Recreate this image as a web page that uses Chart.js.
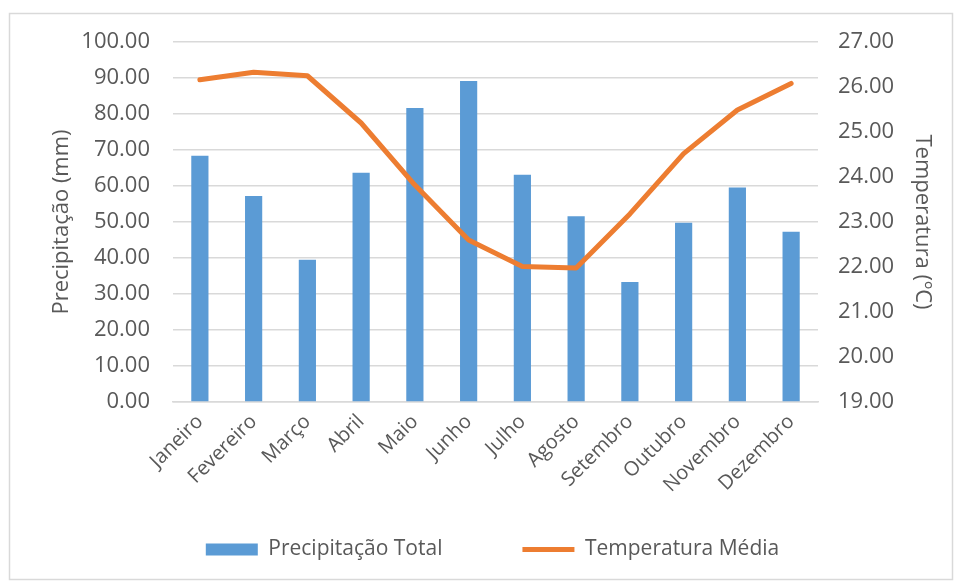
<!DOCTYPE html>
<html>
<head>
<meta charset="utf-8">
<script src="https://cdn.jsdelivr.net/npm/chart.js"></script>
<style>
  body { margin: 0; background: #ffffff; }
  #wrap { position: absolute; left: 0; top: 0; width: 955px; height: 581px; }
</style>
</head>
<body>
<div id="wrap"><canvas id="myChart" width="955" height="581"></canvas></div>
<script>
const months = ['Janeiro', 'Fevereiro', 'Março', 'Abril', 'Maio', 'Junho',
  'Julho', 'Agosto', 'Setembro', 'Outubro', 'Novembro', 'Dezembro'];
const precipitation = [68.4, 57.2, 39.5, 63.7, 81.7, 89.2, 63.1, 51.6, 33.3, 49.8, 59.6, 47.3];
const temperature = [26.16, 26.33, 26.25, 25.2, 23.82, 22.6, 22.01, 21.98, 23.18, 24.52, 25.49, 26.08];
const precipTicks = [0, 10, 20, 30, 40, 50, 60, 70, 80, 90, 100];
const tempTicks = [19, 20, 21, 22, 23, 24, 25, 26, 27];

const fontName = '"Open Sans", "Noto Sans", sans-serif';
const gray = '#595959';
const gridGray = '#d9d9d9';

// border around the whole chart, like the office chart frame
const frame = {
  id: 'frame',
  beforeDraw(chart) {
    const ctx = chart.ctx;
    ctx.save();
    ctx.strokeStyle = gridGray;
    ctx.lineWidth = 1.5;
    ctx.strokeRect(9.5, 13.5, 943, 566);
    ctx.restore();
    // rotated month labels run below the axis box, don't clip them
    chart.scales.x._computeLabelArea = () => undefined;
  }
};

// legend needs wide spacing between items but a short box
const legendHeight = {
  id: 'legendHeight',
  afterInit(chart) {
    const leg = chart.legend;
    const fit0 = leg.fit;
    leg.fit = function () {
      fit0.call(this);
      this.height = 122;
    };
  }
};

const ctx = document.getElementById('myChart').getContext('2d');
new Chart(ctx, {
  data: {
    labels: months,
    datasets: [{
      type: 'bar',
      label: 'Precipitação Total',
      data: precipitation,
      backgroundColor: '#5b9bd5',
      borderWidth: 0,
      barPercentage: 0.64,
      categoryPercentage: 0.5,
      yAxisID: 'y',
      order: 2,
      pointStyle: 'rect'
    }, {
      type: 'line',
      label: 'Temperatura Média',
      data: temperature,
      borderColor: '#ed7d31',
      backgroundColor: '#ed7d31',
      borderWidth: 5,
      borderCapStyle: 'round',
      borderJoinStyle: 'round',
      pointRadius: 0,
      tension: 0,
      yAxisID: 'y1',
      order: 1,
      pointStyle: 'line'
    }]
  },
  options: {
    responsive: false,
    animation: false,
    layout: { padding: { left: 40, right: 10, top: 42, bottom: 0 } },
    plugins: {
      tooltip: { enabled: false },
      legend: {
        position: 'bottom',
        labels: {
          usePointStyle: true,
          pointStyleWidth: 52,
          boxHeight: 12,
          padding: 80,
          color: gray,
          font: { family: fontName, size: 21 },
          sort: (a, b) => a.datasetIndex - b.datasetIndex
        }
      }
    },
    scales: {
      x: {
        grid: { display: false, drawTicks: false },
        border: { color: gridGray, width: 1.5 },
        ticks: {
          color: gray,
          font: { family: fontName, size: 20 },
          minRotation: 45,
          maxRotation: 45,
          padding: 8
        },
        afterFit(scale) { scale.height = 57; }
      },
      y: {
        position: 'left',
        min: 0,
        max: 100,
        afterBuildTicks(scale) { scale.ticks = precipTicks.map(v => ({ value: v })); },
        grid: { color: gridGray, lineWidth: 1.5, drawTicks: false },
        border: { display: false },
        ticks: {
          color: gray,
          font: { family: fontName, size: 22 },
          padding: 23,
          callback: v => v.toFixed(2)
        },
        title: {
          display: true,
          text: 'Precipitação (mm)',
          color: gray,
          font: { family: fontName, size: 22 },
          padding: { top: 9, bottom: 0 }
        },
        afterFit(scale) { scale.width = 133; }
      },
      y1: {
        position: 'right',
        min: 19,
        max: 27,
        afterBuildTicks(scale) { scale.ticks = tempTicks.map(v => ({ value: v })); },
        grid: { drawOnChartArea: false, drawTicks: false },
        border: { display: false },
        ticks: {
          color: gray,
          font: { family: fontName, size: 22 },
          padding: 20,
          callback: v => v.toFixed(2)
        },
        title: {
          display: true,
          text: 'Temperatura (ºC)',
          color: gray,
          font: { family: fontName, size: 22 },
          padding: { top: 10, bottom: 0 }
        },
        afterFit(scale) { scale.width = 127; }
      }
    }
  },
  plugins: [frame, legendHeight]
});
</script>
</body>
</html>
